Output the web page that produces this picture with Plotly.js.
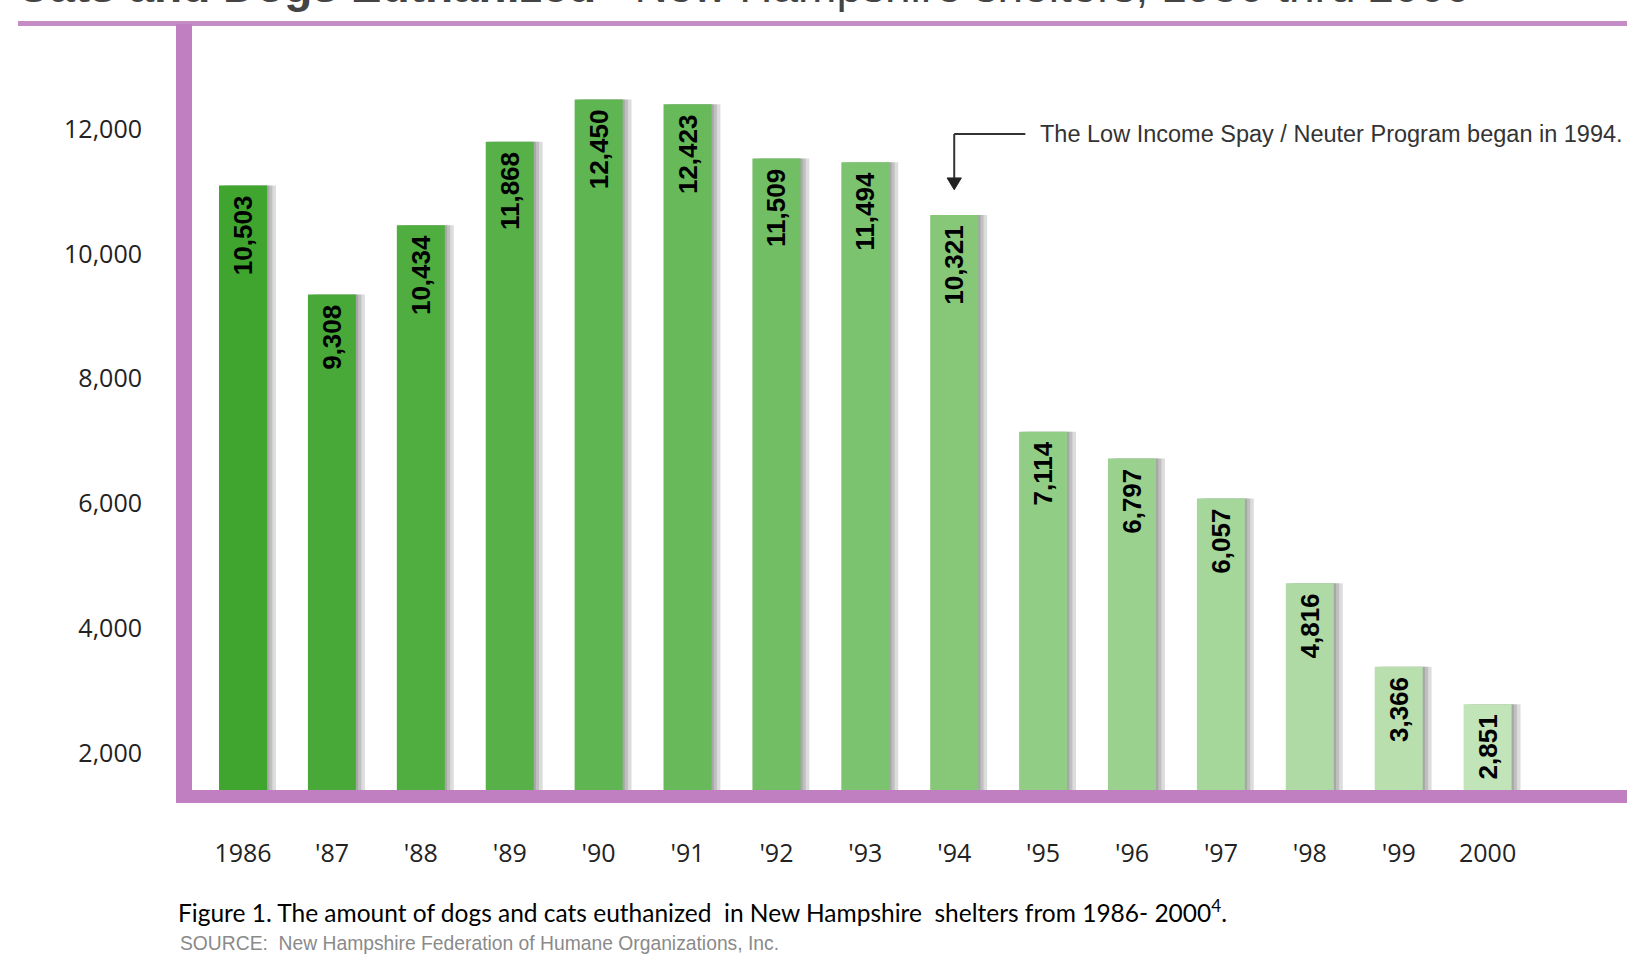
<!DOCTYPE html>
<html>
<head>
<meta charset="utf-8">
<script src="https://cdn.plot.ly/plotly-3.0.1.min.js"></script>
<style>html,body{margin:0;padding:0;background:#fff;}#chart{width:1627px;height:961px;}</style>
</head>
<body>
<div id="chart"></div>
<script>
// ---- data ----
const years = ['1986', "'87", "'88", "'89", "'90", "'91", "'92", "'93", "'94", "'95", "'96", "'97", "'98", "'99", '2000'];
const barLabels = ['10,503', '9,308', '10,434', '11,868', '12,450', '12,423', '11,509', '11,494', '10,321', '7,114', '6,797', '6,057', '4,816', '3,366', '2,851'];
const barHeights = [11100, 9350, 10460, 11800, 12480, 12400, 11530, 11470, 10625, 7150, 6720, 6080, 4720, 3380, 2780];
const yTicks = [2000, 4000, 6000, 8000, 10000, 12000];
const barColors = ['#3fa52f', '#48a938', '#50ad40', '#58b148', '#5fb551', '#67b95a', '#71be64', '#7bc36e', '#86c878', '#91cd84', '#9bd18f', '#a5d69a', '#afdaa5', '#b9dfaf', '#c2e4b9'];
const noteText = 'The Low Income Spay / Neuter Program began in 1994.';
const captionText = 'Figure 1. The amount of dogs and cats euthanized  in New Hampshire  shelters from 1986- 2000<sup>4</sup>.';
const sourceText = 'SOURCE:  New Hampshire Federation of Humane Organizations, Inc.';
const titleText = '<b>Cats and Dogs Euthanized</b>   New Hampshire shelters, 1986 thru 2000';

const purple = '#c07fc0';
const barWidth = 0.54;

const traces = [];
// soft drop shadows to the right of each bar
[0.025, 0.06, 0.1].forEach(function (shift) {
  traces.push({
    type: 'bar', x: years, y: barHeights,
    width: barWidth, offset: -barWidth / 2 + shift,
    marker: {color: 'rgba(60,60,60,0.18)', line: {width: 0}},
    hoverinfo: 'skip', showlegend: false
  });
});
traces.push({
  type: 'bar', x: years, y: barHeights,
  width: barWidth, offset: -barWidth / 2,
  marker: {color: barColors, line: {width: 0}},
  text: barLabels.map(function (s) { return s + '\u2008'; }),
  textposition: 'inside', insidetextanchor: 'end', textangle: -90,
  constraintext: 'none',
  insidetextfont: {family: 'Liberation Sans, Arial, sans-serif', size: 26, color: '#000', weight: 'bold'},
  hoverinfo: 'x+y', showlegend: false
});

const P = function (px) { return (px - 192) / 1435; };   // pixel -> paper x
const Q = function (py) { return (790 - py) / 766; };    // pixel -> paper y

const layout = {
  width: 1627, height: 961,
  paper_bgcolor: '#ffffff', plot_bgcolor: '#ffffff',
  margin: {l: 192, r: 0, t: 24, b: 171, pad: 0},
  barmode: 'overlay', showlegend: false,
  xaxis: {
    type: 'category', range: [-0.574, 15.568],
    showgrid: false, zeroline: false, showline: false, ticks: '',
    tickfont: {family: 'Open Sans, sans-serif', size: 25, color: '#222'},
    ticklabelstandoff: 46, fixedrange: true
  },
  yaxis: {
    range: [1403, 13689], tickvals: yTicks, tickformat: ',d',
    showgrid: false, zeroline: false, showline: false, ticks: '',
    tickfont: {family: 'Open Sans, sans-serif', size: 25, color: '#222'},
    ticklabelstandoff: 49, fixedrange: true
  },
  shapes: [
    // top thin rule
    {type: 'rect', xref: 'paper', yref: 'paper', x0: P(18), x1: 1.02, y0: Q(26), y1: Q(21), fillcolor: '#c68cc6', line: {width: 0}, layer: 'above'},
    // left vertical rule
    {type: 'rect', xref: 'paper', yref: 'paper', x0: P(176), x1: P(192), y0: Q(803), y1: Q(24), fillcolor: purple, line: {width: 0}, layer: 'above'},
    // bottom thick rule
    {type: 'rect', xref: 'paper', yref: 'paper', x0: P(176), x1: 1.02, y0: Q(803), y1: Q(790), fillcolor: purple, line: {width: 0}, layer: 'above'},
    // callout arrow
    {type: 'line', xref: 'x', yref: 'y', x0: 8, x1: 8.8, y0: 11925, y1: 11925, line: {color: '#333', width: 2}},
    {type: 'line', xref: 'x', yref: 'y', x0: 8, x1: 8, y0: 11925, y1: 11200, line: {color: '#333', width: 2}},
    {type: 'path', xref: 'x', yref: 'y', path: 'M 7.92,11220 L 8.08,11220 L 8,11030 Z', fillcolor: '#222', line: {color: '#222', width: 1}}
  ],
  annotations: [
    {xref: 'x', yref: 'y', x: 8.94, y: 11925, xanchor: 'left', yanchor: 'middle', showarrow: false,
     text: noteText, font: {family: 'Liberation Sans, Arial, sans-serif', size: 23.5, color: '#333'}},
    {xref: 'paper', yref: 'paper', x: P(176), y: Q(911), xanchor: 'left', yanchor: 'middle', showarrow: false,
     text: captionText, font: {family: 'Lato, sans-serif', size: 24.5, color: '#000'}},
    {xref: 'paper', yref: 'paper', x: P(178), y: Q(943), xanchor: 'left', yanchor: 'middle', showarrow: false,
     text: sourceText, font: {family: 'Liberation Sans, Arial, sans-serif', size: 19.3, color: '#8a8a8a'}},
    {xref: 'paper', yref: 'paper', x: P(14), y: Q(14.5), xanchor: 'left', yanchor: 'bottom', showarrow: false,
     text: titleText, font: {family: 'Liberation Sans, Arial, sans-serif', size: 46, color: '#444'}}
  ]
};

Plotly.newPlot('chart', traces, layout, {displayModeBar: false, staticPlot: true});
</script>
</body>
</html>
